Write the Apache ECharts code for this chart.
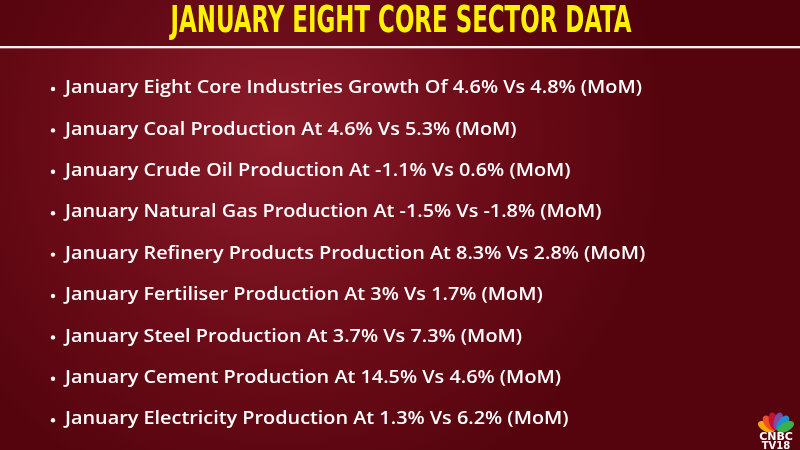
<!DOCTYPE html>
<html>
<head>
<meta charset="utf-8">
<script src="https://cdn.jsdelivr.net/npm/echarts@6/dist/echarts.min.js"></script>
<style>
  html, body { margin: 0; padding: 0; background: #5c0610; }
  #chart { width: 800px; height: 450px; }
</style>
</head>
<body>
<div id="chart"></div>
<script>
const title = 'JANUARY EIGHT CORE SECTOR DATA';
const sectors = [
  'Eight Core Industries Growth Of',
  'Coal Production At',
  'Crude Oil Production At',
  'Natural Gas Production At',
  'Refinery Products Production At',
  'Fertiliser Production At',
  'Steel Production At',
  'Cement Production At',
  'Electricity Production At'
];
const current = ['4.6%', '4.6%', '-1.1%', '-1.5%', '8.3%', '3%', '3.7%', '14.5%', '1.3%'];
const previous = ['4.8%', '5.3%', '0.6%', '-1.8%', '2.8%', '1.7%', '7.3%', '4.6%', '6.2%'];

const lines = sectors.map((s, i) => `January ${s} ${current[i]} Vs ${previous[i]} (MoM)`);

// peacock feathers, left to right
const feathers = ['#f5a800', '#ef4d23', '#c3113a', '#7c4c9e', '#1c8fd3', '#3cb04a'];

const titleFont = 'bold 38px "DejaVu Sans Condensed", "DejaVu Sans", sans-serif';
const bodyFont = '600 18px "Open Sans", "Noto Sans", sans-serif';

// squeeze text to a target width
function fitScale(text, font, width) {
  const ctx = document.createElement('canvas').getContext('2d');
  ctx.font = font;
  return width / ctx.measureText(text).width;
}

const chart = echarts.init(document.getElementById('chart'));
const graphics = [];

// background
graphics.push({
  type: 'rect', shape: { x: 0, y: 0, width: 800, height: 450 }, silent: true,
  style: {
    fill: new echarts.graphic.RadialGradient(0.35, 0.3, 0.85, [
      { offset: 0, color: '#8c1c2a' },
      { offset: 0.55, color: '#6c0c18' },
      { offset: 1, color: '#55040e' }
    ])
  }
});
graphics.push({
  type: 'rect', shape: { x: 0, y: 0, width: 800, height: 46 }, silent: true,
  style: { fill: 'rgba(70,0,10,0.3)' }
});
graphics.push({
  type: 'rect', shape: { x: 0, y: 46, width: 800, height: 2 }, silent: true,
  style: { fill: '#f4eef0' }
});
graphics.push({
  type: 'rect', shape: { x: 0, y: 48, width: 800, height: 1 }, silent: true,
  style: { fill: 'rgba(220,150,170,0.5)' }
});

// title
graphics.push({
  type: 'text', x: 401, y: 22, scaleX: fitScale(title, titleFont, 461), silent: true,
  style: {
    text: title, fill: '#fff200', font: titleFont,
    align: 'center', verticalAlign: 'middle'
  }
});

// bullets
const bodyScale = fitScale(lines[0], bodyFont, 577);
lines.forEach((txt, i) => {
  const y = 88 + i * 41.4;
  graphics.push({
    type: 'circle', shape: { cx: 53, cy: y + 1, r: 2.2 }, silent: true,
    style: { fill: '#ffffff' }
  });
  graphics.push({
    type: 'text', x: 65, y: y, scaleX: bodyScale, silent: true,
    style: {
      text: txt, fill: '#ffffff', font: bodyFont,
      align: 'left', verticalAlign: 'middle'
    }
  });
});

// logo
feathers.forEach((c, i) => {
  const deg = -62.5 + i * 25;
  graphics.push({
    type: 'ellipse', silent: true,
    shape: { cx: 0, cy: -11, rx: 4.6, ry: 9 },
    x: 776, y: 432, rotation: -deg * Math.PI / 180,
    style: { fill: c }
  });
});
graphics.push({
  type: 'text', x: 776, y: 437, silent: true,
  style: { text: 'CNBC', fill: '#fff', font: 'bold 11px "DejaVu Sans", sans-serif', align: 'center', verticalAlign: 'middle' }
});
graphics.push({
  type: 'text', x: 776, y: 446, silent: true,
  style: { text: 'TV18', fill: '#fff', font: 'bold 10px "DejaVu Sans", sans-serif', align: 'center', verticalAlign: 'middle' }
});

chart.setOption({ animation: false, graphic: graphics });
</script>
</body>
</html>
